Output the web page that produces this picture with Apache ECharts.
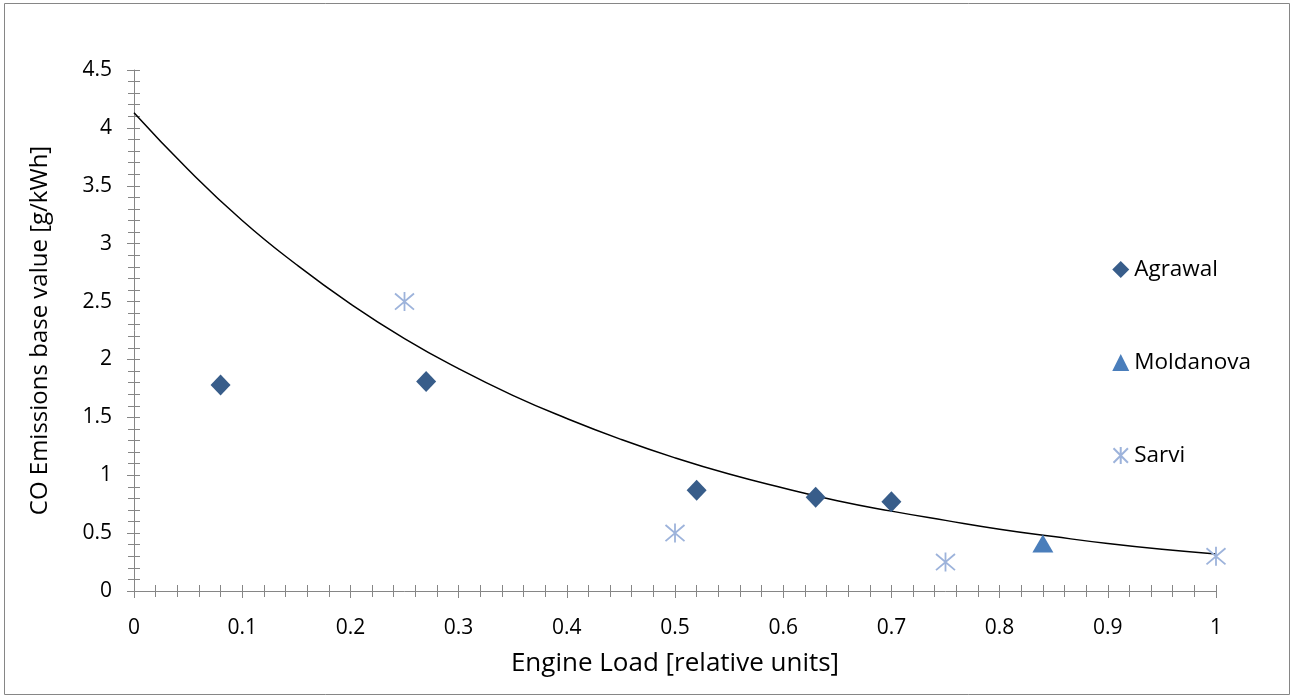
<!DOCTYPE html>
<html>
<head>
<meta charset="utf-8">
<title>CO Emissions vs Engine Load</title>
<script src="https://cdn.jsdelivr.net/npm/echarts@6/dist/echarts.min.js"></script>
<style>
  html, body { margin: 0; padding: 0; background: #fff; }
  #chart { width: 1293px; height: 698px; }
</style>
</head>
<body>
<div id="chart"></div>
<script>
// data
const agrawal = [[0.08, 1.78], [0.27, 1.81], [0.52, 0.87], [0.63, 0.81], [0.70, 0.77]]
const moldanova = [[0.84, 0.41]]
const sarvi = [[0.25, 2.5], [0.5, 0.5], [0.75, 0.25], [1.0, 0.3]]
// trendline, sampled from the curve in the picture
const trendX = [0, 0.05, 0.1, 0.15, 0.2, 0.25, 0.3, 0.35, 0.4, 0.45, 0.5, 0.55, 0.6, 0.65, 0.7, 0.75, 0.8, 0.85, 0.9, 0.95, 1.0]
const trendY = [4.13, 3.64, 3.20, 2.82, 2.48, 2.18, 1.92, 1.69, 1.49, 1.31, 1.15, 1.01, 0.89, 0.78, 0.69, 0.61, 0.534, 0.47, 0.41, 0.36, 0.32]

const axisGray = '#868686'
const font = "'Open Sans', 'Noto Sans', sans-serif"
const asterisk = 'path://M0,-10L0,10M-8.5,-8.5L8.5,8.5M8.5,-8.5L-8.5,8.5'

const chart = echarts.init(document.getElementById('chart'))

const xBase = { type: 'value', min: 0, max: 1, interval: 0.1, position: 'bottom' }
const yBase = { type: 'value', min: 0, max: 4.5, interval: 0.5, position: 'left' }

const option = {
  backgroundColor: '#fff',
  animation: false,
  graphic: [{
    type: 'rect',
    shape: { x: 4.5, y: 3.5, width: 1285, height: 691 },
    style: { fill: 'none', stroke: axisGray, lineWidth: 1 },
    silent: true
  }],
  grid: { left: 134, right: 77, top: 70, bottom: 107 },
  legend: {
    orient: 'vertical',
    left: 1106,
    top: 253,
    padding: 5,
    itemGap: 70,
    itemWidth: 17,
    itemHeight: 17,
    textStyle: { fontFamily: font, fontSize: 22.5, color: '#000' },
    data: ['Agrawal', 'Moldanova', 'Sarvi']
  },
  xAxis: [
    Object.assign({}, xBase, {
      name: 'Engine Load [relative units]',
      nameLocation: 'middle',
      nameGap: 60,
      nameTextStyle: { fontFamily: font, fontSize: 26, color: '#000' },
      axisLine: { lineStyle: { color: axisGray } },
      axisTick: { show: true, length: 7, lineStyle: { color: axisGray } },
      minorTick: { show: true, splitNumber: 5, length: 6, lineStyle: { color: axisGray } },
      axisLabel: { fontFamily: font, fontSize: 21, color: '#000', margin: 27 },
      splitLine: { show: false }
    }),
    Object.assign({}, xBase, {
      axisLine: { show: false },
      axisTick: { show: true, inside: true, length: 6, lineStyle: { color: axisGray } },
      minorTick: { show: true, splitNumber: 5, length: 6, lineStyle: { color: axisGray } },
      axisLabel: { show: false },
      splitLine: { show: false }
    })
  ],
  yAxis: [
    Object.assign({}, yBase, {
      name: 'CO Emissions base value [g/kWh]',
      nameLocation: 'middle',
      nameGap: 82,
      nameTextStyle: { fontFamily: font, fontSize: 24, color: '#000' },
      axisLine: { show: true, lineStyle: { color: axisGray } },
      axisTick: { show: true, length: 7, lineStyle: { color: axisGray } },
      minorTick: { show: true, splitNumber: 5, length: 6, lineStyle: { color: axisGray } },
      axisLabel: { fontFamily: font, fontSize: 21, color: '#000', margin: 22 },
      splitLine: { show: false }
    }),
    Object.assign({}, yBase, {
      axisLine: { show: false },
      axisTick: { show: true, inside: true, length: 6, lineStyle: { color: axisGray } },
      minorTick: { show: true, splitNumber: 5, length: 6, lineStyle: { color: axisGray } },
      axisLabel: { show: false },
      splitLine: { show: false }
    })
  ],
  series: [
    {
      name: 'Trend',
      type: 'line',
      data: trendX.map((x, i) => [x, trendY[i]]),
      smooth: true,
      showSymbol: false,
      lineStyle: { color: '#000', width: 1.5 },
      z: 1
    },
    {
      name: 'Agrawal',
      type: 'scatter',
      data: agrawal,
      symbol: 'diamond',
      symbolSize: [20, 21],
      itemStyle: { color: '#385D8A', opacity: 1 },
      z: 3
    },
    {
      name: 'Moldanova',
      type: 'scatter',
      data: moldanova,
      symbol: 'triangle',
      symbolSize: [21, 18],
      itemStyle: { color: '#4A7EBB', opacity: 1 },
      z: 3
    },
    {
      name: 'Sarvi',
      type: 'scatter',
      data: sarvi,
      symbol: asterisk,
      symbolSize: [19, 19],
      itemStyle: { color: 'none', borderColor: '#9DB3DB', borderWidth: 1.8, opacity: 1 },
      z: 3
    }
  ]
}

chart.setOption(option)

window.addEventListener('resize', () => {
  chart.resize()
})
</script>
</body>
</html>
